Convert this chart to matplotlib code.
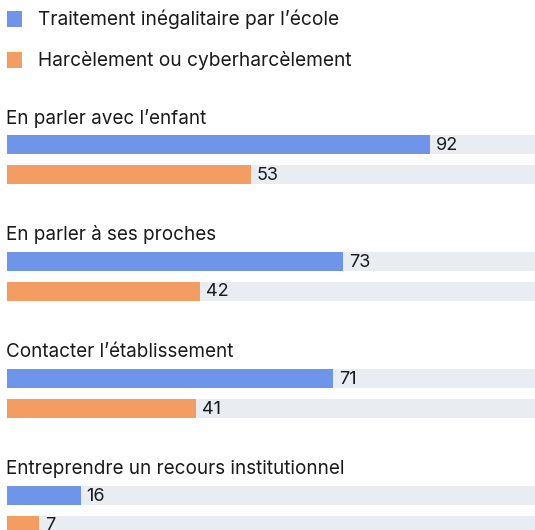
import matplotlib
matplotlib.use("Agg")
import matplotlib.pyplot as plt
from matplotlib.patches import Rectangle

categories = ["En parler avec l\u2019enfant", "En parler \u00e0 ses proches",
              "Contacter l\u2019\u00e9tablissement", "Entreprendre un recours institutionnel"]
series_names = ["Traitement in\u00e9galitaire par l\u2019\u00e9cole", "Harc\u00e8lement ou cyberharc\u00e8lement"]
traitement = [92, 73, 71, 16]
harcelement = [53, 42, 41, 7]
colors = ["#6F95EA", "#F49D63"]
bg_color = "#E9ECF1"

plt.rcParams['font.family'] = ['Inter', 'DejaVu Sans']

W, H = 535, 530
fig = plt.figure(figsize=(W / 100, H / 100), dpi=100)
ax = fig.add_axes([0, 0, 1, 1])
ax.set_axis_off()

scale = 423 / 92.0          # px per unit
x0 = 7                      # left margin px
xmin = -x0 / scale
xmax = (W - x0) / scale
ax.set_xlim(xmin, xmax)
ax.set_ylim(H, 0)           # y in pixels, top = 0

txt_col = "#1a1a1a"
# Legend
for i, (name, c) in enumerate(zip(series_names, colors)):
    yc = 19 + i * 41
    ax.add_patch(Rectangle((xmin + 7 / scale, yc - 8), 15 / scale, 16, color=c, lw=0))
    ax.text(xmin + 38 / scale, yc, name, fontsize=13.8, va="center", ha="left", color=txt_col)

# Groups
group_top = 118
spacing = 117
bar_h = 19
for g, cat in enumerate(categories):
    ly = group_top + g * spacing
    ax.text(xmin + 6 / scale, ly, cat, fontsize=13.6, va="center", ha="left", color=txt_col)
    for s, vals in enumerate([traitement, harcelement]):
        yc = ly + 26.5 + s * 29.5
        ax.barh(yc, xmax, left=0, height=bar_h, color=bg_color, lw=0)
        ax.barh(yc, vals[g], left=0, height=bar_h, color=colors[s], lw=0)
        ax.text(vals[g] + 6 / scale, yc + 1, str(vals[g]), fontsize=13,
                va="center", ha="left", color=txt_col)

fig.savefig("out.png", dpi=100)
